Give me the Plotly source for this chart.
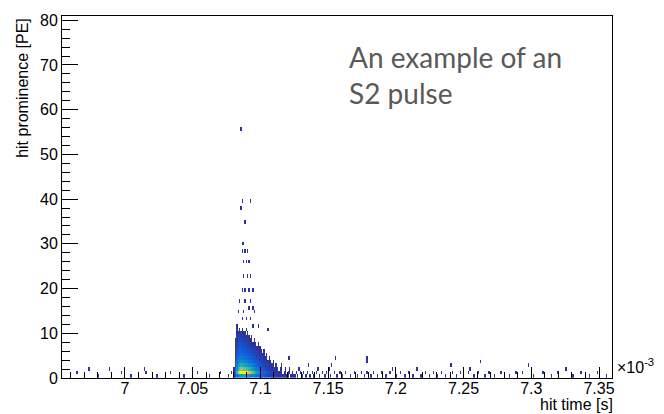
import numpy as np
import plotly.graph_objects as go

# ---------------- binning of the 2D histogram (time in units of 1e-3 s) ----------------
X_START, N_XBINS, DX = 6.950, 411, 0.001
N_YBINS, DY = 101, 0.8

# ---------------- dense S2 core: counts per PE row (bottom -> top), columns from 7.080 step 0.001 -------
CORE_X0 = 7.080
core_rows = [
    [1, 4, 8, 10, 12, 14, 14, 15, 15, 14, 14, 12, 12, 11, 10, 9, 9, 8, 7, 6, 6, 5, 5, 4, 4, 3, 3, 3, 2, 2, 2, 2, 2, 1, 1, 2, 1, 1, 1, 1, 1, 0, 1, 1, 1],
    [1, 8, 20, 30, 36, 40, 38, 40, 38, 36, 34, 32, 30, 26, 24, 20, 18, 14, 12, 10, 8, 7, 6, 5, 4, 4, 3, 3, 2, 2, 2, 1, 2, 1, 1, 1, 0, 1, 1, 0, 1, 1, 0, 1, 0],
    [1, 6, 14, 20, 24, 26, 26, 24, 24, 22, 22, 20, 18, 16, 14, 12, 10, 9, 8, 6, 5, 5, 4, 3, 3, 2, 2, 2, 1, 2, 1, 1, 1, 0, 1, 1, 0, 0, 1, 0, 0, 1],
    [0, 5, 10, 14, 16, 18, 18, 16, 16, 14, 14, 12, 12, 10, 9, 8, 7, 6, 5, 4, 4, 3, 3, 2, 2, 2, 1, 1, 1, 1, 0, 1, 0, 0, 0, 1],
    [0, 4, 8, 10, 12, 12, 12, 11, 10, 10, 9, 8, 8, 7, 6, 5, 5, 4, 4, 3, 3, 2, 2, 2, 1, 1, 1, 1, 0, 1],
    [0, 3, 6, 8, 9, 9, 9, 8, 8, 7, 7, 6, 6, 5, 5, 4, 4, 3, 3, 2, 2, 2, 1, 1, 1, 0, 1],
    [0, 3, 5, 6, 7, 7, 7, 6, 6, 6, 5, 5, 4, 4, 3, 3, 3, 2, 2, 2, 1, 1, 1, 0, 1],
    [0, 2, 4, 5, 6, 6, 5, 5, 5, 4, 4, 4, 3, 3, 3, 2, 2, 2, 1, 1, 1, 0, 1],
    [0, 2, 3, 4, 5, 5, 4, 4, 4, 3, 3, 3, 2, 2, 2, 1, 2, 1, 1, 1],
    [0, 1, 3, 3, 4, 4, 3, 3, 3, 3, 2, 2, 2, 1, 1, 1, 1, 0, 1],
    [0, 1, 2, 3, 3, 3, 3, 2, 2, 2, 2, 1, 1, 1, 0, 1],
    [0, 0, 2, 2, 2, 2, 2, 2, 1, 1, 1, 1, 0, 1],
    [0, 0, 1, 1, 1, 2, 1, 1, 1, 0, 1],
    [0, 0, 1, 0, 1, 0, 1, 0, 0, 1],
]

# ---------------- isolated high-prominence hits above the core ----------------
spike_x = [7.0857, 7.0870, 7.0924, 7.0857, 7.0881, 7.0862, 7.0874, 7.0862, 7.0886, 7.0906,
           7.0874, 7.0899, 7.0918, 7.0874, 7.0906, 7.0928, 7.0869, 7.0886, 7.0911, 7.0948,
           7.0850, 7.0881, 7.0924, 7.0911, 7.0943, 7.0837, 7.0874, 7.0960, 7.0862, 7.0899,
           7.0924, 7.0825, 7.0948, 7.0985, 7.1056, 7.1204, 7.1219, 7.1553, 7.1783, 7.1783]
spike_y = [55.6, 39.3, 39.3, 37.8, 34.5, 30.1, 30.1, 28.5, 28.5, 28.5,
           25.7, 25.7, 25.7, 22.7, 22.7, 22.7, 19.8, 19.8, 19.8, 19.8,
           17.4, 17.4, 17.4, 15.8, 15.8, 14.5, 14.5, 14.5, 13.0, 13.0,
           13.0, 11.6, 11.6, 11.6, 10.5, 4.2, 4.2, 4.8, 4.3, 3.2]

# ---------------- low-prominence hits along the baseline (before and after the pulse) ----------------
tail_x = [6.9645, 6.9735, 6.9805, 6.9885, 6.9975, 7.0045, 7.0145, 7.0155, 7.0235, 7.0335,
          7.0435, 7.0535, 7.0625, 7.0705, 7.0765, 7.0785,
          7.1255, 7.1265, 7.1275, 7.1285, 7.1295, 7.1305, 7.1315, 7.1335, 7.1345, 7.1355,
          7.1365, 7.1385, 7.1395, 7.1415, 7.1425, 7.1435, 7.1455, 7.1475, 7.1485, 7.1505,
          7.1515, 7.1525, 7.1545, 7.1565, 7.1585, 7.1605, 7.1625,
          7.1665, 7.1695, 7.1715, 7.1745, 7.1765, 7.1785, 7.1815, 7.1835, 7.1865, 7.1895,
          7.1925, 7.1955, 7.1975, 7.2005, 7.2035, 7.2065, 7.2095, 7.2125, 7.2155, 7.2185,
          7.2215, 7.2245, 7.2275, 7.2305, 7.2335, 7.2365, 7.2405, 7.2415, 7.2445, 7.2475,
          7.2535, 7.2545, 7.2575, 7.2605, 7.2625, 7.2655, 7.2685,
          7.2725, 7.2775, 7.2835, 7.2885, 7.2935, 7.2975, 7.3015, 7.3085, 7.3145, 7.3195,
          7.3255, 7.3305, 7.3365, 7.3425, 7.3485, 7.3555]
tail_y = [1.2, 2.0, 0.4, 2.0, 1.2, 0.4, 2.0, 1.2, 0.4, 1.2,
          0.4, 1.2, 0.4, 1.2, 0.4, 1.2,
          0.4, 1.2, 0.4, 2.0, 1.2, 0.4, 1.2, 0.4, 1.2, 2.8,
          0.4, 1.2, 0.4, 1.2, 2.0, 0.4, 1.2, 0.4, 1.2, 2.0,
          0.4, 2.8, 1.2, 0.4, 1.2, 0.4, 1.2,
          0.4, 1.2, 0.4, 1.2, 0.4, 1.2, 0.4, 1.2, 0.4, 1.2,
          0.4, 1.2, 2.0, 0.4, 1.2, 0.4, 1.2, 0.4, 2.0, 0.4,
          1.2, 0.4, 1.2, 0.4, 1.2, 0.4, 2.8, 1.2, 0.4, 1.2,
          1.2, 2.0, 0.4, 1.2, 3.2, 0.4, 1.2,
          0.4, 1.2, 0.4, 1.2, 1.2, 2.8, 0.4, 1.2, 0.4, 1.2,
          2.0, 0.4, 1.2, 0.4, 1.2, 0.4]

# ---------------- axis ticks ----------------
x_tickvals = [7.0, 7.05, 7.1, 7.15, 7.2, 7.25, 7.3, 7.35]
x_ticktext = ["7", "7.05", "7.1", "7.15", "7.2", "7.25", "7.3", "7.35"]
y_tickvals = [0, 10, 20, 30, 40, 50, 60, 70, 80]

# ---------------- build the histogram grid ----------------
z = np.zeros((N_YBINS, N_XBINS))
core_col0 = int(round((CORE_X0 - X_START) / DX))
for r, row in enumerate(core_rows):
    for c, v in enumerate(row):
        z[r, core_col0 + c] += v
for xs, ys in ((spike_x, spike_y), (tail_x, tail_y)):
    for xv, yv in zip(xs, ys):
        ci = int((xv - X_START) / DX)
        ri = int(yv / DY)
        z[ri, ci] += 1
z[z == 0] = np.nan

x_centers = X_START + DX * (np.arange(N_XBINS) + 0.5)
y_centers = DY * (np.arange(N_YBINS) + 0.5)

# ROOT kBird palette
stops = [0.0, 0.125, 0.25, 0.375, 0.5, 0.625, 0.75, 0.875, 1.0]
red = [0.2082, 0.0592, 0.0780, 0.0232, 0.1802, 0.5301, 0.8186, 0.9956, 0.9764]
green = [0.1664, 0.3599, 0.5041, 0.6419, 0.7178, 0.7492, 0.7328, 0.7862, 0.9832]
blue = [0.5293, 0.8684, 0.8385, 0.7914, 0.6425, 0.4662, 0.3499, 0.1968, 0.0539]
bird = [[s, "rgb(%d,%d,%d)" % (r * 255, g * 255, b * 255)] for s, r, g, b in zip(stops, red, green, blue)]

fig = go.Figure(go.Heatmap(
    x=x_centers, y=y_centers, z=z, colorscale=bird, zmin=0, zmax=np.nanmax(z),
    showscale=False, zsmooth=False, hoverongaps=False,
))

FONT = "Liberation Sans, Arial, Helvetica, sans-serif"
fig.update_layout(
    width=664, height=414,
    margin=dict(l=62, r=52, t=12, b=36),
    plot_bgcolor="white", paper_bgcolor="white",
    font=dict(family=FONT, size=16, color="black"),
    xaxis=dict(
        range=[6.9535, 7.3596], showgrid=False, zeroline=False,
        showline=True, linecolor="black", linewidth=1, mirror=True,
        tickmode="array", tickvals=x_tickvals, ticktext=x_ticktext,
        ticks="inside", ticklen=11, tickcolor="black", tickwidth=1,
        ticklabelstandoff=-4,
        minor=dict(tickmode="linear", tick0=6.95, dtick=0.01, ticks="inside",
                   ticklen=6, tickcolor="black", tickwidth=1),
        tickfont=dict(size=16),
    ),
    yaxis=dict(
        range=[0, 80.95], showgrid=False, zeroline=False,
        showline=True, linecolor="black", linewidth=1, mirror=True,
        tickmode="array", tickvals=y_tickvals,
        ticks="inside", ticklen=16, tickcolor="black", tickwidth=1,
        minor=dict(tickmode="linear", tick0=0, dtick=2, ticks="inside",
                   ticklen=8, tickcolor="black", tickwidth=1),
        tickfont=dict(size=16),
    ),
    annotations=[
        dict(text="hit time [s]", xref="paper", yref="paper", x=1.006, y=-0.072,
             xanchor="right", yanchor="middle", showarrow=False, font=dict(size=16)),
        dict(text="hit prominence [PE]", xref="paper", yref="paper", x=-0.073, y=1.0,
             xanchor="center", yanchor="top", textangle=-90, showarrow=False, font=dict(size=16)),
        dict(text="×10<sup>-3</sup>", xref="paper", yref="paper", x=1.006, y=0.032,
             xanchor="left", yanchor="middle", showarrow=False, font=dict(size=16)),
        dict(text="An example of an<br>S2 pulse", xref="paper", yref="paper", x=0.518, y=0.94,
             xanchor="left", yanchor="top", align="left", showarrow=False,
             font=dict(family="Lato, sans-serif", size=28, color="#595959")),
    ],
)

fig.write_html("out.html", config={"displayModeBar": False},
               post_script="document.body.style.margin='0';document.body.style.overflow='hidden';")
